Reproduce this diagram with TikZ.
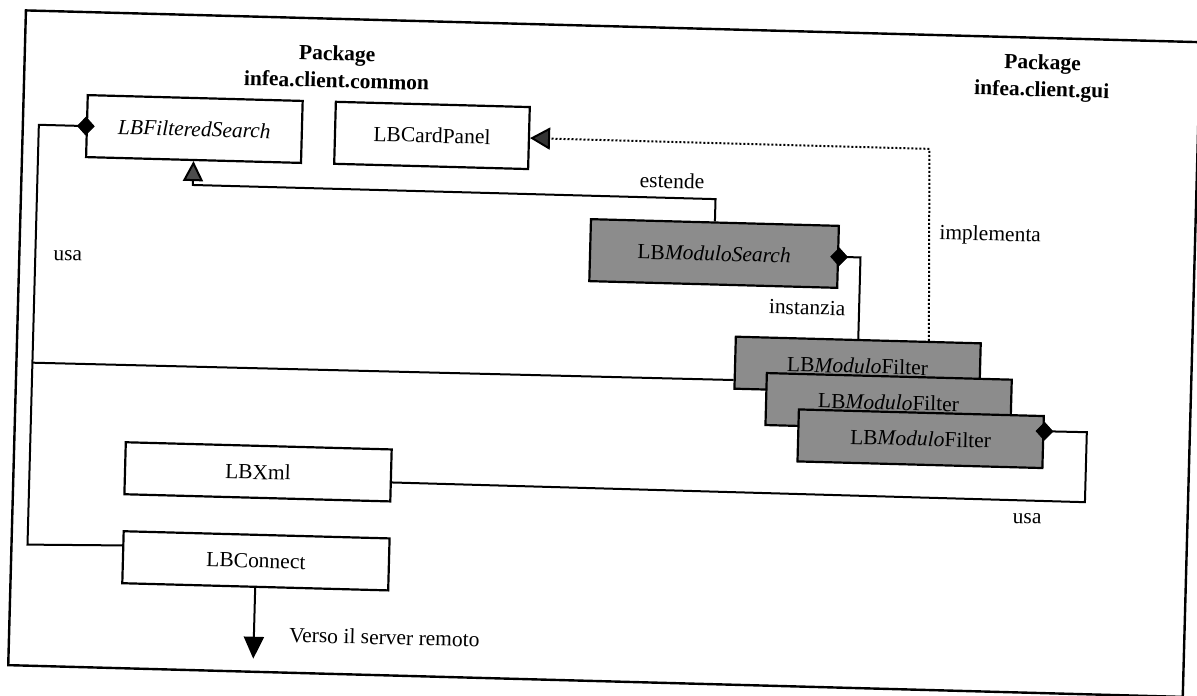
\documentclass[tikz,border=0pt]{standalone}
\usepackage{fontspec}
\setmainfont{Liberation Serif}
\usetikzlibrary{arrows.meta,shapes.geometric}
\begin{document}
\begin{tikzpicture}[x=0.5pt,y=-0.5pt,
  every node/.style={font=\fontsize{10.75}{13.5}\selectfont},
  cls/.style={draw=black, line width=1.1pt, fill=white, inner sep=0pt, minimum height=31pt},
  fcls/.style={cls, fill=black!45, minimum width=122.5pt, minimum height=26pt},
  conn/.style={line width=1pt},
  dia/.style={diamond, fill=black, draw=black, line width=0.4pt, inner sep=0pt, minimum width=8.5pt, minimum height=9pt},
  gen/.style={conn, -{Triangle[length=10pt,width=10pt,fill=black!70]}},
  real/.style={conn, dash pattern=on 1pt off 1pt, -{Triangle[length=10pt,width=11pt,fill=black!80]}},
  dep/.style={conn, -{Triangle[length=11pt,width=10pt,fill=black]}},
  title/.style={align=center, font=\fontsize{10.75}{13.5}\selectfont\bfseries}
]
\useasboundingbox (0,0) rectangle (1197,695);
\begin{scope}[rotate around={-1.55:(598.5,347.5)}, transform shape]
  % outer frame
  \draw[line width=1.2pt] (17,26) rectangle (1192,681);

  % package titles
  \node[title] (T1) at (329.4,74) {Package\\infea.client.common};
  \node[title] (T2) at (1034.7,66) {Package\\infea.client.gui};

  % classes
  \node[cls, minimum width=107.5pt] (FS) at (188.6,140) {\textit{LBFilteredSearch}};
  \node[cls, minimum width=97pt] (CP) at (426.3,140) {LBCardPanel};
  \node[cls, fill=black!45, minimum width=124pt] (MS) at (711.5,250.4) {LB\textit{ModuloSearch}};
  \node[fcls] (F1) at (858,359) {LB\textit{Modulo}Filter};
  \node[fcls] (F2) at (890,394.5) {LB\textit{Modulo}Filter};
  \node[fcls] (F3) at (923,430) {LB\textit{Modulo}Filter};
  \node[cls, minimum width=133pt, minimum height=26pt] (XM) at (261.5,481) {LBXml};
  \node[cls, minimum width=133pt, minimum height=26pt] (CN) at (261.8,570) {LBConnect};

  % bend points
  \coordinate (u1) at (33,140);
  \coordinate (u2) at (33,560);
  \coordinate (s1) at (33,378);
  \coordinate (e1) at (711.5,196);
  \coordinate (e2) at (188.6,196);
  \coordinate (i1) at (858,250.4);
  \coordinate (m1) at (924,140);
  \coordinate (r1) at (1089,419);
  \coordinate (r2) at (1089,489);
  \coordinate (v1) at (261.8,668);

  % connectors
  \draw[conn] (FS.west) -- (u1) -- (u2) -- (CN.175.7);
  \draw[conn] (s1) -- (F1.188.8);
  \draw[gen] (MS.north) -- (e1) -- (e2) -- (FS.south);
  \draw[conn] (MS.east) -- (i1) -- (F1.north);
  \draw[real] (F1.21.5) -- (m1) -- (CP.east);
  \draw[conn] (F3.5.13) -- (r1) -- (r2) -- (XM.-3.44);
  \draw[dep] (CN.south) -- (v1);

  % aggregation diamonds
  \node[dia] (d1) at (FS.west) {};
  \node[dia] (d2) at (MS.east) {};
  \node[dia] (d3) at (F3.5.13) {};

  % labels
  \node (Lest) at (667.5,179) {estende};
  \node (Lusa1) at (65.5,270) {usa};
  \node (Limp) at (987,225) {implementa};
  \node (Lins) at (806,302) {instanzia};
  \node (Lusa2) at (1031.6,507) {usa};
  \node[anchor=west] (Lver) at (290,643) {Verso il server remoto};
\end{scope}
\end{tikzpicture}
\end{document}
